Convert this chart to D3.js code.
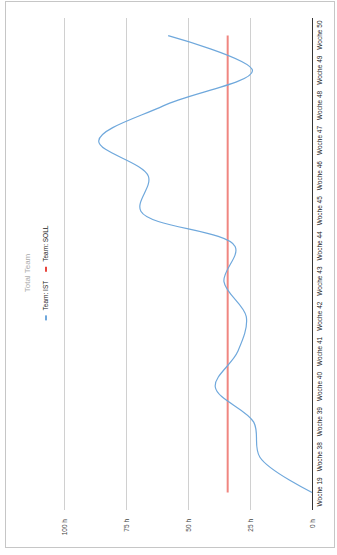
<!DOCTYPE html>
<html>
<head>
<meta charset="utf-8">
<script src="https://cdn.jsdelivr.net/npm/d3@7"></script>
<style>
body { margin: 0; background: #fff; }
svg { display: block; font-family: Arial, "Liberation Sans", sans-serif; }
</style>
</head>
<body>
<script>
// Daten (Stunden je Woche)
let weeks = ["Woche 19", "Woche 38", "Woche 39", "Woche 40", "Woche 41", "Woche 42", "Woche 43",
             "Woche 44", "Woche 45", "Woche 46", "Woche 47", "Woche 48", "Woche 49", "Woche 50"];
let teamIst = [0, 21, 23.5, 39, 30, 26.5, 35.5, 31, 69, 66, 86, 60, 24, 58];
let teamSoll = [34, 34, 34, 34, 34, 34, 34, 34, 34, 34, 34, 34, 34, 34];
let yTicks = [0, 25, 50, 75, 100];
let seriesNames = ["Team: IST", "Team: SOLL"];
let chartTitle = "Total Team";

let colors = ["#6fa8dc", "#e8453c"];

let svg = d3.select("body").append("svg")
  .attr("width", 337)
  .attr("height", 555);

// Rahmen
svg.append("rect")
  .attr("x", 5.5).attr("y", 1.5)
  .attr("width", 329).attr("height", 546)
  .attr("fill", "none")
  .attr("stroke", "#c6c6c6");

// chart is drawn 555 wide x 337 high, then turned on its side
let g = svg.append("g").attr("transform", "translate(0,555) rotate(-90)");

let xScale = d3.scalePoint()
  .domain(weeks)
  .range([45, 537])
  .padding(0.5);

let yScale = d3.scaleLinear()
  .domain([0, 100])
  .range([312, 64]);

// y axis + gridlines
let yAxis = d3.axisLeft(yScale)
  .tickValues(yTicks)
  .tickSize(-(537 - 45))
  .tickPadding(9)
  .tickFormat(d => d + " h");

let ya = g.append("g")
  .attr("transform", "translate(45,0)")
  .call(yAxis);
ya.select(".domain").remove();
ya.selectAll(".tick line")
  .attr("stroke", d => d == 0 ? "#333" : "#d0d0d0");
ya.selectAll(".tick text")
  .attr("fill", "#444")
  .style("font-size", "6.5px");

// x axis (weeks)
let xAxis = d3.axisBottom(xScale)
  .tickSize(0)
  .tickPadding(5);

let xa = g.append("g")
  .attr("transform", "translate(0,312)")
  .call(xAxis);
xa.select(".domain").remove();
xa.selectAll(".tick text")
  .attr("fill", "#222")
  .style("font-size", "6.5px");

// lines
let line = d3.line()
  .x((d, i) => xScale(weeks[i]))
  .y(d => yScale(d));

g.append("path")
  .datum(teamSoll)
  .attr("d", line)
  .attr("fill", "none")
  .attr("stroke", colors[1])
  .attr("stroke-opacity", 0.65)
  .attr("stroke-width", 2);

g.append("path")
  .datum(teamIst)
  .attr("d", line.curve(d3.curveCatmullRom))
  .attr("fill", "none")
  .attr("stroke", colors[0])
  .attr("stroke-width", 1.2);

// title
g.append("text")
  .attr("x", 282)
  .attr("y", 30)
  .attr("text-anchor", "middle")
  .attr("fill", "#aaa")
  .style("font-size", "8px")
  .text(chartTitle);

// legend
let legend = g.append("g");
let items = legend.selectAll("g")
  .data(seriesNames).enter().append("g");

items.append("rect")
  .attr("width", 5)
  .attr("height", 2)
  .attr("y", 45)
  .attr("fill", (d, i) => colors[i]);

items.append("text")
  .attr("x", 10)
  .attr("y", 48.3)
  .attr("fill", "#222")
  .style("font-size", "6.5px")
  .text(d => d);

let pos = 0;
items.each(function() {
  d3.select(this).attr("transform", "translate(" + pos + ",0)");
  pos += 10 + this.querySelector("text").getComputedTextLength() + 9;
});
let legendWidth = pos - 9;
legend.attr("transform", "translate(" + (282 - legendWidth / 2) + ",0)");
</script>
</body>
</html>
